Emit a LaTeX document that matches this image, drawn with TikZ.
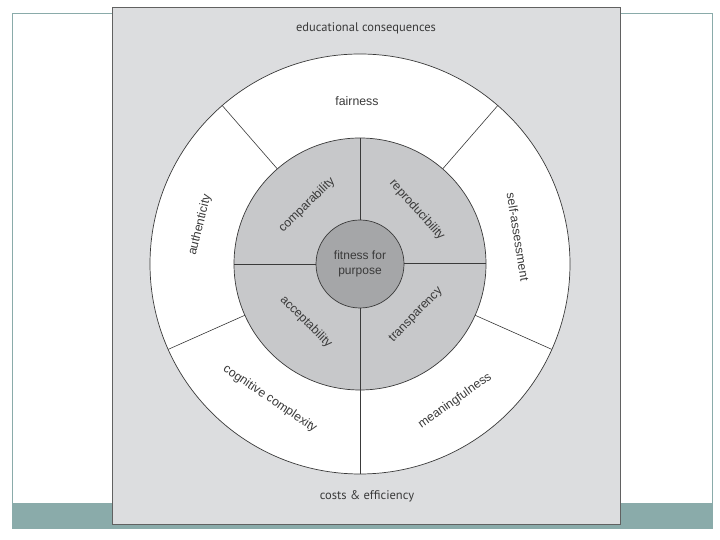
\documentclass[tikz,border=0pt]{standalone}
\usepackage{fontspec}
\setmainfont{Liberation Sans}
\newfontfamily\capfont{PT Sans}
\usepackage{xcolor}
\usepackage{tikz}

\definecolor{slidebar}{HTML}{8AABAA}
\definecolor{figbg}{HTML}{DCDDDF}
\definecolor{ringmid}{HTML}{C7C8CA}
\definecolor{ringcore}{HTML}{A5A6A8}
\definecolor{inkgray}{HTML}{3A3A3A}

\begin{document}
\begin{tikzpicture}[
  x=1pt, y=1pt,
  ring/.style={
    circle, draw=inkgray, line width=0.7pt,
    inner sep=0pt, outer sep=0pt
  },
  div/.style={draw=inkgray, line width=0.6pt},
  lab/.style={font=\fontsize{12.3}{14}\selectfont, text=inkgray, inner sep=1pt},
  outlab/.style={font=\capfont\fontsize{12.5}{14}\selectfont, text=inkgray}
]

% ── Lienzo y marco de la diapositiva ─────────────────────────
\useasboundingbox[fill=white] (0, 0) rectangle (720, 540);
\draw[slidebar, line width=0.6pt] (12, 12) rectangle (712, 527);
\fill[slidebar] (12, 12) rectangle (712, 37);

% ── Figura (fondo gris) ───────────────────────────────────────
\draw[fill=figbg, draw=inkgray!80, line width=0.8pt] (112, 16) rectangle (620, 533);

% ── Anillos ───────────────────────────────────────────────────
\node[ring, fill=white,    minimum size=420pt] (outer) at (360, 276) {};
\node[ring, fill=ringmid,  minimum size=252pt] (mid)   at (360, 276) {};

% Cruz interior
\draw[div] (mid.north) -- (360, 276);
\draw[div] (mid.south) -- (360, 276);
\draw[div] (mid.west)  -- (360, 276);
\draw[div, line width=1pt] (mid.east) -- (360, 276);

\node[ring, fill=ringcore, minimum size=88pt, align=center,
      font=\fontsize{12}{14.5}\selectfont, text=inkgray] (core) at (360, 276)
  {fitness for\\purpose};

% Divisiones del anillo exterior
\draw[div] (mid.131)  -- (outer.131);
\draw[div] (mid.49)   -- (outer.49);
\draw[div] (mid.-24)  -- (outer.-24);
\draw[div] (mid.-156) -- (outer.-156);
\draw[div] (mid.south) -- (outer.south);

% ── Etiquetas del anillo exterior ─────────────────────────────
\node[lab]              (fair) at (357, 439) {fairness};
\node[lab, rotate=76]   (auth) at (200, 315) {authenticity};
\node[lab, rotate=-81]  (self) at (518, 303) {self-assessment};
\node[lab, rotate=-34]  (cogn) at (270, 141) {cognitive complexity};
\node[lab, rotate=35]   (mean) at (455, 139) {meaningfulness};

% ── Etiquetas del anillo medio ────────────────────────────────
\node[lab, rotate=44]   (comp) at (307, 335) {comparability};
\node[lab, rotate=-48]  (repr) at (417, 330) {reproducibility};
\node[lab, rotate=-45]  (acce) at (306, 218) {acceptability};
\node[lab, rotate=46]   (tran) at (416, 225) {transparency};

% ── Fuera de los anillos ──────────────────────────────────────
\node[outlab] (educ) at (366, 512) {educational consequences};
\node[outlab] (cost) at (367, 44)  {costs \& efficiency};

\end{tikzpicture}
\end{document}
